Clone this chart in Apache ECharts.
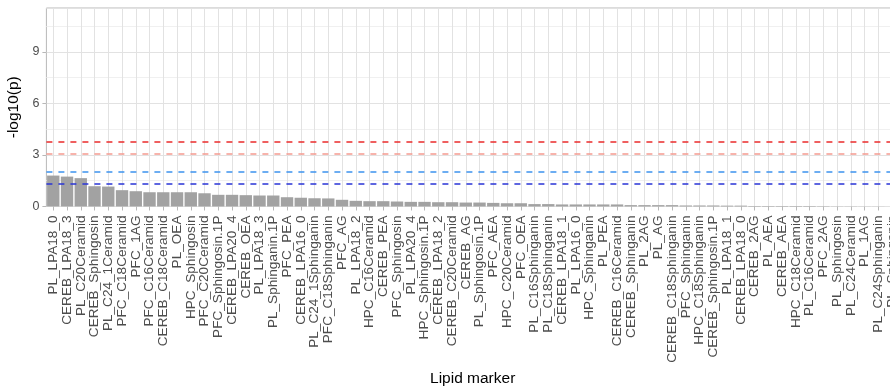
<!DOCTYPE html>
<html>
<head>
<meta charset="utf-8">
<script src="https://cdn.jsdelivr.net/npm/echarts@6/dist/echarts.min.js"></script>
<style>
    html, body { margin: 0; padding: 0; background: #ffffff; }
    /* 图表容器 */
    #chart { width: 890px; height: 390px; }
</style>
</head>
<body>
<div id="chart"></div>
<script>
    // 类别（脂质标记）
    var categories = [
        'PL_LPA18_0', 'CEREB_LPA18_3', 'PL_C20Ceramid', 'CEREB_Sphingosin', 'PL_C24_1Ceramid',
        'PFC_C18Ceramid', 'PFC_1AG', 'PFC_C16Ceramid', 'CEREB_C18Ceramid', 'PL_OEA',
        'HPC_Sphingosin', 'PFC_C20Ceramid', 'PFC_Sphingosin.1P', 'CEREB_LPA20_4', 'CEREB_OEA',
        'PL_LPA18_3', 'PL_Sphinganin.1P', 'PFC_PEA', 'CEREB_LPA16_0', 'PL_C24_1Sphinganin',
        'PFC_C18Sphinganin', 'PFC_AG', 'PL_LPA18_2', 'HPC_C16Ceramid', 'CEREB_PEA',
        'PFC_Sphingosin', 'PL_LPA20_4', 'HPC_Sphingosin.1P', 'CEREB_LPA18_2', 'CEREB_C20Ceramid',
        'CEREB_AG', 'PL_Sphingosin.1P', 'PFC_AEA', 'HPC_C20Ceramid', 'PFC_OEA',
        'PL_C16Sphinganin', 'PL_C18Sphinganin', 'CEREB_LPA18_1', 'PL_LPA16_0', 'HPC_Sphinganin',
        'PL_PEA', 'CEREB_C16Ceramid', 'CEREB_Sphinganin', 'PL_2AG', 'PL_AG',
        'CEREB_C18Sphinganin', 'PFC_Sphinganin', 'HPC_C18Sphinganin', 'CEREB_Sphingosin.1P', 'PL_LPA18_1',
        'CEREB_LPA18_0', 'CEREB_2AG', 'PL_AEA', 'CEREB_AEA', 'HPC_C18Ceramid',
        'PL_C16Ceramid', 'PFC_2AG', 'PL_Sphingosin', 'PL_C24Ceramid', 'PL_1AG',
        'PL_C24Sphinganin', 'PL_Sphinganin'
    ];
    // -log10(p) 值
    var logP = [
        1.80, 1.74, 1.65, 1.18, 1.16, 0.95, 0.89, 0.83, 0.83, 0.83,
        0.83, 0.77, 0.68, 0.68, 0.66, 0.64, 0.64, 0.54, 0.51, 0.48,
        0.47, 0.39, 0.33, 0.31, 0.31, 0.29, 0.27, 0.27, 0.25, 0.25,
        0.23, 0.23, 0.21, 0.19, 0.19, 0.14, 0.14, 0.12, 0.12, 0.12,
        0.12, 0.12, 0.08, 0.08, 0.08, 0.08, 0.06, 0.06, 0.06, 0.05,
        0.05, 0.03, 0.03, 0.03, 0.03, 0.03, 0.02, 0.01, 0.01, 0.005,
        0.005, 0
    ];
    // y轴刻度
    var yBreaks = [0, 3, 6, 9];
    // 阈值线
    var thresholds = [3.79, 3.09, 2.0, 1.30];
    var thresholdColors = ['#ea2b2b', '#f59a90', '#3d93ee', '#2a35d6'];

    var font = "'Liberation Sans', Arial, sans-serif";
    var myChart = echarts.init(document.getElementById('chart'));

    var option = {
        animation: false,
        grid: {
            left: 46.4,
            top: 8,
            width: 852.5,
            bottom: 183.5,
            outerBoundsMode: 'none',
            containLabel: false,
            show: true,
            borderColor: '#b8b8b8',
            borderWidth: 1,
            backgroundColor: 'transparent'
        },
        xAxis: [{
            type: 'category',
            data: categories,
            name: 'Lipid marker',
            nameLocation: 'middle',
            nameGap: 164,
            nameTextStyle: { color: '#000000', fontSize: 15.5, fontFamily: font },
            axisLine: { show: false },
            axisTick: { show: true, alignWithLabel: true, length: 4, lineStyle: { color: '#b8b8b8' } },
            axisLabel: {
                rotate: 90,
                interval: 0,
                margin: 9,
                color: '#4d4d4d',
                fontSize: 13.6,
                fontFamily: font
            },
            splitLine: { show: true, alignWithLabel: true, lineStyle: { color: '#e2e2e2', width: 1 } }
        }],
        yAxis: [{
            // 网格线（主/次交替）
            type: 'value',
            min: 0,
            max: 11.55,
            interval: 1.5,
            axisLine: { show: false },
            axisTick: { show: false },
            axisLabel: { show: false },
            splitLine: { show: true, lineStyle: { color: ['#e2e2e2', '#f0f0f0'], width: 1 } }
        }, {
            // 刻度和标签
            type: 'value',
            position: 'left',
            min: 0,
            max: 11.55,
            interval: 3,
            name: '-log10(p)',
            nameLocation: 'middle',
            nameRotate: 90,
            nameGap: 22,
            nameTextStyle: { color: '#000000', fontSize: 15.5, fontFamily: font },
            axisLine: { show: false },
            axisTick: { show: true, length: 4, lineStyle: { color: '#b8b8b8' } },
            axisLabel: {
                margin: 7,
                color: '#4d4d4d',
                fontSize: 12.5,
                fontFamily: font,
                showMaxLabel: false,
                formatter: function (v) {
                    return yBreaks.indexOf(v) >= 0 ? String(v) : '';
                }
            },
            splitLine: { show: false }
        }],
        series: [{
            type: 'bar',
            data: logP,
            barCategoryGap: '10%',
            itemStyle: { color: '#a2a2a2' },
            markLine: {
                silent: true,
                symbol: 'none',
                label: { show: false },
                data: thresholds.map(function (t, i) {
                    return {
                        yAxis: t,
                        lineStyle: { color: thresholdColors[i], type: [6, 6], width: 1.6 }
                    };
                })
            }
        }]
    };
    myChart.setOption(option);
</script>
</body>
</html>
